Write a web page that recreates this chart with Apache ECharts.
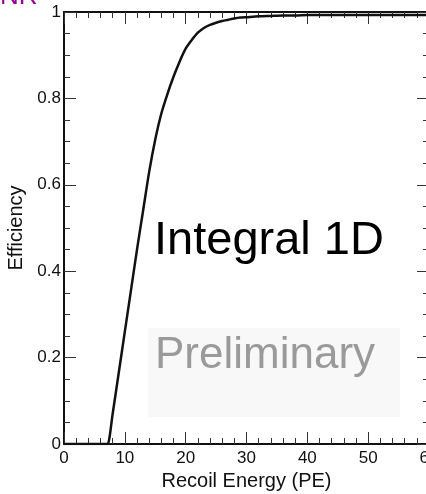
<!DOCTYPE html>
<html>
<head>
<meta charset="utf-8">
<script src="https://cdn.jsdelivr.net/npm/echarts@6/dist/echarts.min.js"></script>
<style>
  html, body { margin: 0; padding: 0; background: #fff; }
  #chart { width: 426px; height: 494px; }
</style>
</head>
<body>
<div id="chart"></div>
<script>
// Recoil energy (PE) sample points of the efficiency curve
const energy = [0, 1, 2, 3, 4, 5, 6, 7, 7.2, 8, 9, 10, 11, 12, 13, 14, 15, 16, 17, 18, 19, 20,
  21, 22, 23, 24, 25, 26, 27, 28, 29, 30, 32, 34, 36, 38, 40, 45, 50, 55, 60];
// Integral 1D efficiency at each energy
const efficiency = [0, 0, 0, 0, 0, 0, 0, 0, 0, 0.07, 0.165, 0.26, 0.355, 0.45, 0.54, 0.63, 0.705,
  0.765, 0.81, 0.85, 0.885, 0.915, 0.935, 0.952, 0.963, 0.97, 0.975, 0.979, 0.982, 0.985,
  0.987, 0.988, 0.99, 0.991, 0.992, 0.992, 0.993, 0.993, 0.993, 0.993, 0.993];

const xTicks = { min: 0, max: 60, step: 10 };
const yTicks = { min: 0, max: 1, step: 0.2 };

const FONT = '"Liberation Sans", Arial, Helvetica, sans-serif';
const INK = '#111';

function frameAxis(extra) {
  return Object.assign({
    type: 'value',
    axisLine: { show: true, onZero: false, lineStyle: { color: INK, width: 2 } },
    axisTick: { show: true, inside: true, length: 12, lineStyle: { color: '#333', width: 1 } },
    minorTick: { show: true, length: 6, lineStyle: { color: '#333', width: 1 } },
    splitLine: { show: false },
    minorSplitLine: { show: false }
  }, extra);
}

const chart = echarts.init(document.getElementById('chart'), null, { renderer: 'canvas' });

chart.setOption({
  animation: false,
  backgroundColor: '#fff',
  grid: { left: 64, top: 12, width: 365, height: 432, containLabel: false, outerBoundsMode: 'none' },
  xAxis: [
    frameAxis({
      position: 'bottom',
      min: xTicks.min, max: xTicks.max, interval: xTicks.step,
      minorTick: { show: true, splitNumber: 5, length: 6, lineStyle: { color: '#333', width: 1 } },
      axisLabel: { show: true, color: INK, fontFamily: FONT, fontSize: 17, margin: 6, hideOverlap: false },
      name: 'Recoil Energy (PE)',
      nameLocation: 'middle',
      nameGap: 24,
      nameTextStyle: { color: INK, fontFamily: FONT, fontSize: 20 }
    }),
    frameAxis({
      position: 'top',
      min: xTicks.min, max: xTicks.max, interval: xTicks.step,
      minorTick: { show: true, splitNumber: 5, length: 6, lineStyle: { color: '#333', width: 1 } },
      axisLabel: { show: false }
    })
  ],
  yAxis: [
    frameAxis({
      position: 'left',
      min: yTicks.min, max: yTicks.max, interval: yTicks.step,
      minorTick: { show: true, splitNumber: 4, length: 6, lineStyle: { color: '#333', width: 1 } },
      axisLabel: { show: true, color: INK, fontFamily: FONT, fontSize: 17, margin: 3 },
      name: 'Efficiency',
      nameLocation: 'middle',
      nameGap: 30,
      nameRotate: 90,
      nameTextStyle: { color: INK, fontFamily: FONT, fontSize: 20 }
    }),
    frameAxis({
      position: 'right',
      min: yTicks.min, max: yTicks.max, interval: yTicks.step,
      minorTick: { show: true, splitNumber: 4, length: 6, lineStyle: { color: '#333', width: 1 } },
      axisLabel: { show: false }
    })
  ],
  series: [{
    type: 'line',
    xAxisIndex: 0,
    yAxisIndex: 0,
    data: energy.map((e, i) => [e, efficiency[i]]),
    showSymbol: false,
    smooth: 0.25,
    lineStyle: { color: INK, width: 2.5 },
    z: 3
  }],
  graphic: [
    {
      type: 'rect',
      shape: { x: 148, y: 328, width: 252, height: 89 },
      style: { fill: '#f8f8f8' },
      z: 1
    },
    {
      type: 'text',
      x: 155, y: 378,
      style: {
        text: 'Preliminary',
        font: '44px ' + FONT,
        fill: '#9a9a9a',
        textVerticalAlign: 'bottom'
      },
      z: 2
    },
    {
      type: 'text',
      x: 154, y: 265,
      style: {
        text: 'Integral 1D',
        font: '47px ' + FONT,
        fill: '#000',
        textVerticalAlign: 'bottom'
      },
      z: 4
    },
    {
      type: 'text',
      x: 0, y: 10,
      style: {
        text: 'NR',
        font: '26px ' + FONT,
        fill: '#990099',
        textVerticalAlign: 'bottom'
      },
      z: 4
    }
  ]
});
</script>
</body>
</html>
